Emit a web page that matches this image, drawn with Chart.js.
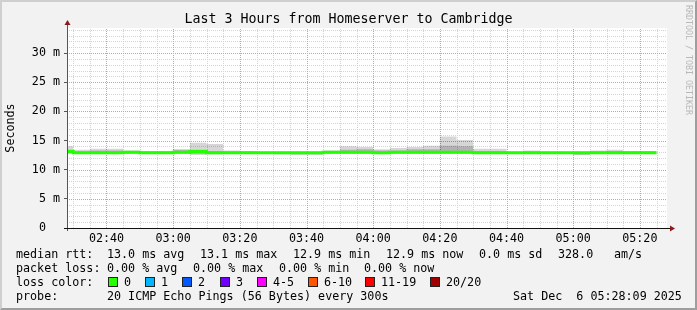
<!DOCTYPE html>
<html>
<head>
<meta charset="utf-8">
<script src="https://cdn.jsdelivr.net/npm/chart.js@4.4.1/dist/chart.umd.min.js"></script>
<style>
  html, body { margin: 0; padding: 0; background: #f2f2f2; }
  #wrap { position: relative; width: 697px; height: 310px; background: #f2f2f2; overflow: hidden;
          font-family: 'DejaVu Sans Mono', monospace; font-size: 11.7px; color: #000; }
  #wrap canvas { position: absolute; left: 0; top: 0; }
  .frame { position: absolute; left: 0; top: 0; width: 697px; height: 310px; box-sizing: border-box;
           border: 2px solid; border-color: #cfcfcf #9e9e9e #9e9e9e #cfcfcf; pointer-events: none; }
  .title { position: absolute; left: 0; width: 697px; top: 11px; line-height: 16px; text-align: center; font-size: 13.3px; white-space: pre; }
  .mark { position: absolute; left: 684px; top: 5px; writing-mode: vertical-rl; font-size: 8.3px; color: #b8b8b8; white-space: pre; }
  .t { position: absolute; line-height: 14px; white-space: pre; }
  .box { position: absolute; width: 8px; height: 8px; border: 1px solid #222; }
</style>
</head>
<body>
<div id="wrap">
  <canvas id="smokeChart" width="697" height="310"></canvas>
  <div class="title">Last 3 Hours from Homeserver to Cambridge</div>
  <div class="mark">RRDTOOL / TOBI OETIKER</div>

  <div class="t" style="left:16px;top:247px">median rtt:</div>
  <div class="t" style="left:107px;top:247px">13.0 ms avg</div>
  <div class="t" style="left:200px;top:247px">13.1 ms max</div>
  <div class="t" style="left:293px;top:247px">12.9 ms min</div>
  <div class="t" style="left:386px;top:247px">12.9 ms now</div>
  <div class="t" style="left:479px;top:247px">0.0 ms sd</div>
  <div class="t" style="left:558px;top:247px">328.0</div>
  <div class="t" style="left:614px;top:247px">am/s</div>

  <div class="t" style="left:16px;top:261px">packet loss:</div>
  <div class="t" style="left:107px;top:261px">0.00 % avg</div>
  <div class="t" style="left:193px;top:261px">0.00 % max</div>
  <div class="t" style="left:279px;top:261px">0.00 % min</div>
  <div class="t" style="left:364px;top:261px">0.00 % now</div>

  <div class="t" style="left:16px;top:275px">loss color:</div>
  <div id="lossLegend"></div>

  <div class="t" style="left:16px;top:289px">probe:</div>
  <div class="t" style="left:107px;top:289px">20 ICMP Echo Pings (56 Bytes) every 300s</div>
  <div class="t" style="left:513px;top:289px">Sat Dec  6 05:28:09 2025</div>

  <div class="frame"></div>
</div>
<script>
// Ventana de tiempo del gráfico (últimas 3 horas)
const windowStart = '02:28:09';
const windowEnd = '05:28:09';

// Inicio de cada intervalo de 5 minutos
const slotStarts = ['02:25', '02:30', '02:35', '02:40', '02:45', '02:50', '02:55',
  '03:00', '03:05', '03:10', '03:15', '03:20', '03:25', '03:30', '03:35', '03:40', '03:45', '03:50', '03:55',
  '04:00', '04:05', '04:10', '04:15', '04:20', '04:25', '04:30', '04:35', '04:40', '04:45', '04:50', '04:55',
  '05:00', '05:05', '05:10', '05:15', '05:20'];
const slotEnd = '05:25';

// Valores en ms
const medianRtt = [13.1, 12.9, 12.9, 12.9, 13.0, 12.9, 12.9,
  13.0, 13.1, 12.9, 12.9, 12.9, 12.9, 12.9, 12.9, 12.9, 13.0, 13.0, 13.0,
  12.9, 13.0, 13.0, 13.0, 13.0, 13.0, 12.9, 12.9, 12.9, 12.9, 12.9, 12.9,
  12.9, 12.9, 12.9, 12.9, 12.9];
const smokeMax = [14.0, 13.4, 13.6, 13.6, 13.3, 13.2, 13.2,
  13.5, 14.6, 14.4, 13.3, 13.2, 13.1, 13.1, 13.1, 13.1, 13.3, 14.0, 13.9,
  13.5, 13.7, 13.9, 14.1, 15.7, 15.1, 13.6, 13.6, 13.1, 13.3, 13.1, 13.1,
  13.1, 13.3, 13.4, 13.2, 13.2];
const smokeHigh = [13.4, 13.1, 13.3, 13.3, 13.1, 13.1, 13.1,
  13.4, 13.4, 13.2, 13.1, 13.1, 13.0, 13.0, 13.0, 13.0, 13.1, 13.4, 13.5,
  13.3, 13.3, 13.5, 13.5, 14.1, 14.0, 13.2, 13.2, 13.0, 13.1, 13.0, 13.0,
  13.0, 13.1, 13.2, 13.1, 13.1];
const smokeLow = [12.9, 12.8, 12.8, 12.8, 12.8, 12.8, 12.8,
  12.8, 12.7, 12.8, 12.8, 12.8, 12.8, 12.7, 12.7, 12.7, 12.8, 12.8, 12.8,
  12.8, 12.8, 12.8, 12.8, 12.9, 12.9, 12.8, 12.8, 12.8, 12.8, 12.8, 12.8,
  12.6, 12.8, 12.8, 12.8, 12.8];
const smokeMin = [12.7, 12.7, 12.7, 12.7, 12.7, 12.7, 12.7,
  12.7, 12.5, 12.6, 12.7, 12.7, 12.7, 12.6, 12.5, 12.5, 12.7, 12.7, 12.7,
  12.7, 12.7, 12.7, 12.7, 12.7, 12.7, 12.7, 12.7, 12.7, 12.7, 12.7, 12.7,
  12.5, 12.7, 12.7, 12.7, 12.7];

// Leyenda de colores de pérdida
const lossLabels = ['0', '1', '2', '3', '4-5', '6-10', '11-19', '20/20'];
const lossColors = ['#26ff00', '#00b8ff', '#0059ff', '#7000ff', '#ff00ff', '#ff5500', '#ff0000', '#a10000'];

const yMax = 34.3;

function toMinutes(t) {
  const p = t.split(':').map(Number);
  return p[0] * 60 + p[1] + (p[2] || 0) / 60;
}

function pad2(n) { return String(n).padStart(2, '0'); }

// Puntos escalonados: cada valor ocupa su intervalo de 5 minutos
function steps(values) {
  const pts = slotStarts.map((t, i) => ({ x: toMinutes(t), y: values[i] }));
  pts.push({ x: toMinutes(slotEnd), y: values[values.length - 1] });
  return pts;
}

// Leyenda de pérdida (cajas de color)
const boxLeft = [108, 145, 182, 220, 257, 308, 365, 430];
const lossHtml = lossLabels.map((lbl, i) =>
  '<div class="box" style="left:' + boxLeft[i] + 'px;top:277px;background:' + lossColors[i] + '"></div>' +
  '<div class="t" style="left:' + (boxLeft[i] + 16) + 'px;top:275px">' + lbl + '</div>').join('');
document.getElementById('lossLegend').innerHTML = lossHtml;

const minorGrid = '#d4d4d4';
const majorGrid = '#f59090';

// Fondo blanco, rejilla punteada, ejes y flechas al estilo RRDtool
const rrdFrame = {
  id: 'rrdFrame',
  beforeDatasetsDraw(chart) {
    const { ctx, chartArea: a, scales } = chart;
    ctx.save();
    ctx.fillStyle = '#ffffff';
    ctx.fillRect(a.left, a.top, a.right - a.left, a.bottom - a.top);
    ctx.lineWidth = 1;
    ctx.setLineDash([1, 1]);
    // primero la rejilla menor, después la mayor encima
    [false, true].forEach(major => {
      ctx.strokeStyle = major ? majorGrid : minorGrid;
      ctx.beginPath();
      // verticales cada 5 minutos (mayores cada 20)
      for (let v = Math.ceil(scales.x.min / 5) * 5; v <= scales.x.max; v += 5) {
        if ((v % 20 === 0) !== major) continue;
        const px = Math.round(scales.x.getPixelForValue(v)) + 0.5;
        ctx.moveTo(px, a.bottom);
        ctx.lineTo(px, a.top);
      }
      // horizontales cada 1 ms (mayores cada 5)
      for (let v = 1; v <= scales.y.max; v += 1) {
        if ((v % 5 === 0) !== major) continue;
        const py = Math.round(scales.y.getPixelForValue(v)) + 0.5;
        ctx.moveTo(a.left, py);
        ctx.lineTo(a.right, py);
      }
      ctx.stroke();
    });
    ctx.restore();
  },
  afterDraw(chart) {
    const { ctx, chartArea: a } = chart;
    ctx.save();
    // eje Y
    ctx.strokeStyle = '#555555';
    ctx.lineWidth = 1;
    ctx.beginPath();
    ctx.moveTo(a.left + 0.5, a.bottom + 3);
    ctx.lineTo(a.left + 0.5, a.top - 5);
    ctx.stroke();
    // eje X
    ctx.strokeStyle = '#111111';
    ctx.beginPath();
    ctx.moveTo(a.left - 3, a.bottom + 0.5);
    ctx.lineTo(a.right + 3, a.bottom + 0.5);
    ctx.stroke();
    // flechas
    ctx.fillStyle = '#8b1a1a';
    ctx.beginPath();
    ctx.moveTo(a.left + 0.5, a.top - 8);
    ctx.lineTo(a.left - 2.5, a.top - 3);
    ctx.lineTo(a.left + 3.5, a.top - 3);
    ctx.closePath();
    ctx.fill();
    ctx.beginPath();
    ctx.moveTo(a.right + 8, a.bottom + 0.5);
    ctx.lineTo(a.right + 3, a.bottom - 2.5);
    ctx.lineTo(a.right + 3, a.bottom + 3.5);
    ctx.closePath();
    ctx.fill();
    ctx.restore();
  }
};

const baseLine = {
  stepped: true,
  pointRadius: 0,
  borderWidth: 0,
  borderColor: 'transparent',
  clip: 0,
  fill: false
};

Chart.defaults.font.family = "'DejaVu Sans Mono', monospace";
Chart.defaults.font.size = 11.7;
Chart.defaults.color = '#000000';

new Chart(document.getElementById('smokeChart').getContext('2d'), {
  type: 'line',
  data: {
    datasets: [
      { ...baseLine, label: 'min', data: steps(smokeMin), order: 4 },
      { ...baseLine, label: 'max', data: steps(smokeMax), fill: '-1', backgroundColor: 'rgba(0,0,0,0.16)', order: 3 },
      { ...baseLine, label: 'low', data: steps(smokeLow), order: 2 },
      { ...baseLine, label: 'high', data: steps(smokeHigh), fill: '-1', backgroundColor: 'rgba(0,0,0,0.17)', order: 1 },
      { ...baseLine, label: 'median rtt', data: steps(medianRtt), borderColor: '#22ff00', borderWidth: 3, order: 0 }
    ]
  },
  options: {
    responsive: false,
    animation: false,
    devicePixelRatio: 1,
    events: [],
    layout: { padding: { left: 0, top: 28, right: 30, bottom: 62 } },
    plugins: {
      legend: { display: false },
      tooltip: { enabled: false },
      title: { display: false }
    },
    scales: {
      x: {
        type: 'linear',
        min: toMinutes(windowStart),
        max: toMinutes(windowEnd),
        afterBuildTicks(scale) {
          // marcas cada 5 minutos, alineadas al reloj
          const ticks = [];
          for (let v = Math.ceil(scale.min / 5) * 5; v <= scale.max; v += 5) ticks.push({ value: v });
          scale.ticks = ticks;
        },
        afterFit(scale) { scale.height = 20; },
        ticks: {
          autoSkip: false,
          maxRotation: 0,
          padding: 1,
          callback(v) {
            if (v % 20 !== 0) return '';
            return pad2(Math.floor(v / 60)) + ':' + pad2(v % 60);
          }
        },
        grid: {
          drawOnChartArea: false,
          tickColor: 'transparent',
          tickLength: 3
        },
        border: { display: false }
      },
      y: {
        type: 'linear',
        min: 0,
        max: yMax,
        afterBuildTicks(scale) {
          const ticks = [];
          for (let v = 0; v <= scale.max; v += 1) ticks.push({ value: v });
          scale.ticks = ticks;
        },
        afterFit(scale) { scale.width = 67; },
        ticks: {
          autoSkip: false,
          padding: 4,
          callback(v) {
            if (v % 5 !== 0) return '';
            return v === 0 ? '0  ' : v + ' m';
          }
        },
        grid: {
          drawOnChartArea: false,
          tickColor: ctx => (ctx.tick && ctx.tick.value % 5 === 0) ? '#555555' : 'transparent',
          tickLength: 3
        },
        border: { display: false },
        title: {
          display: true,
          text: 'Seconds',
          padding: { top: 4, bottom: 0 },
          font: { size: 11.7 }
        }
      }
    }
  },
  plugins: [rrdFrame]
});
</script>
</body>
</html>
